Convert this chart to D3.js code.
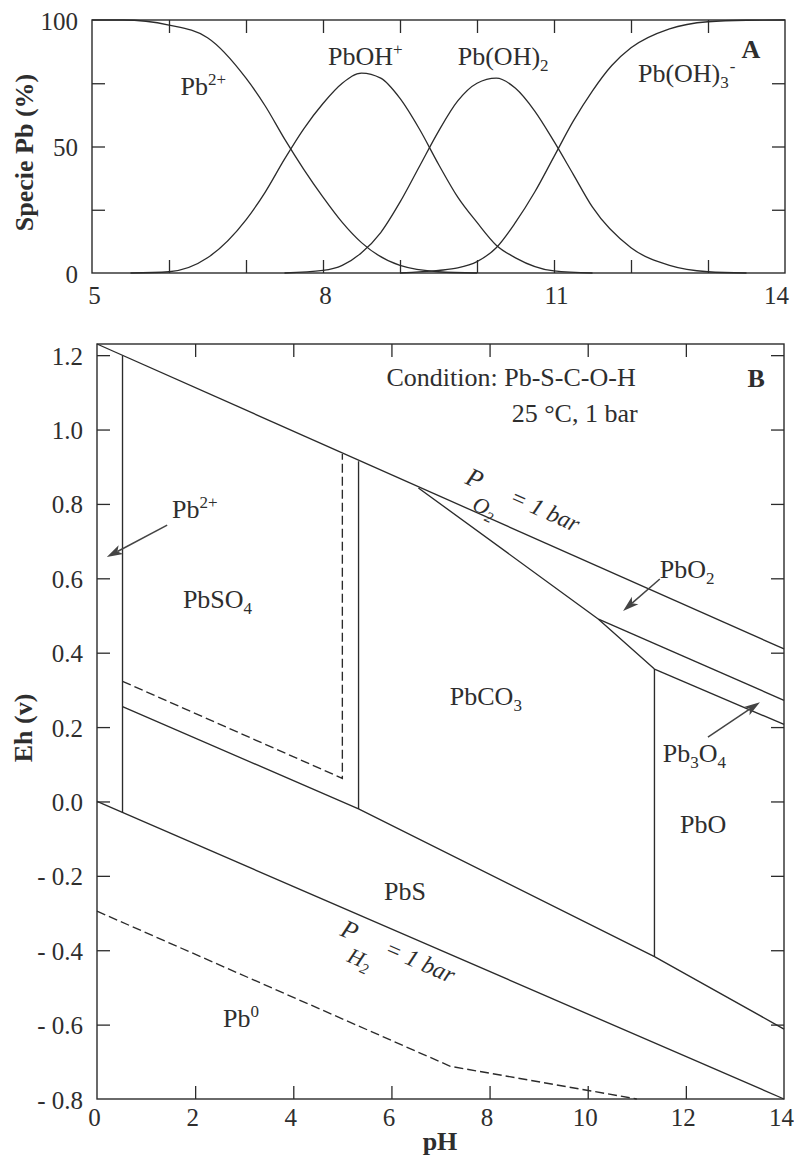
<!DOCTYPE html>
<html><head><meta charset="utf-8">
<script src="https://cdn.jsdelivr.net/npm/d3@7"></script>
<style>
body{margin:0;background:#fff}
text{font-family:"Liberation Serif","Times New Roman",serif;fill:#2e2e2e}
</style>
</head><body>
<svg id="c" width="794" height="1156"></svg>
<script>
// ================= Panel A: species distribution =================
const pb2_pH    = [5, 5.4, 6, 6.5, 7, 7.25, 7.5, 7.75, 8, 8.25, 8.5, 9, 9.5, 10];
const pb2_pct   = [100, 100, 98, 93, 77, 66, 53, 41, 30, 20, 12, 3, 0.5, 0];
const pboh_pH   = [5.5, 6, 6.5, 7, 7.25, 7.5, 7.75, 8, 8.25, 8.5, 8.75, 9, 9.25, 9.5, 9.75, 10, 10.25, 10.5, 11, 11.5];
const pboh_pct  = [0, 0.5, 6, 21, 32, 45, 57, 67, 75, 79, 77, 69, 57, 43, 30, 20, 11, 6, 0.8, 0];
const pboh2_pH  = [7.5, 8, 8.25, 8.5, 8.75, 9, 9.25, 9.5, 9.75, 10, 10.25, 10.5, 10.75, 11, 11.25, 11.5, 12, 12.5, 13, 13.5];
const pboh2_pct = [0, 1, 3, 8, 16, 28, 42, 56, 68, 75, 77, 73, 64, 52, 39, 26, 10, 3, 0.5, 0];
const pboh3_pH  = [9, 9.5, 9.75, 10, 10.25, 10.5, 10.75, 11, 11.25, 11.5, 11.75, 12, 12.5, 13, 13.5, 14];
const pboh3_pct = [0, 1, 2, 4.5, 10, 20, 32, 46, 60, 72, 82, 89, 96.5, 99.3, 99.9, 100];

const topXTickMarks  = [6, 7, 8, 9, 10, 11, 12, 13];
const topXTickLabels = [5, 8, 11, 14];
const topYTickMarks  = [25, 50, 75];
const topYTickLabels = [0, 50, 100];

// ================= Panel B: Eh-pH diagram =================
const o2Line        = [[0, 1.23], [14, 0.41]];
const h2Line        = [[0, 0.0], [14, -0.80]];
const pb2Boundary   = [[0.52, 1.199], [0.52, -0.031]];
const sulfideLine   = [[0.52, 0.255], [5.33, -0.02], [11.36, -0.417], [14, -0.612]];
const sulfateDashed = [[0.52, 0.323], [5.0, 0.062], [5.0, 0.934]];
const so4co3Line    = [[5.33, 0.915], [5.33, -0.02]];
const pbco3Upper    = [[6.55, 0.843], [10.22, 0.49], [11.36, 0.356]];
const pboVertical   = [[11.36, 0.356], [11.36, -0.417]];
const pbo2Pb3o4     = [[10.22, 0.49], [14, 0.272]];
const pb3o4Pbo      = [[11.36, 0.356], [14, 0.207]];
const pb0Dashed     = [[0, -0.295], [7.2, -0.712], [11.0, -0.80]];

const botXTickMarks  = [2, 4, 6, 8, 10, 12];
const botXTickLabels = [0, 2, 4, 6, 8, 10, 12, 14];
const botYTickMarks  = [-0.6, -0.4, -0.2, 0.0, 0.2, 0.4, 0.6, 0.8, 1.0, 1.2];
const botYTickLabels = [-0.8, -0.6, -0.4, -0.2, 0.0, 0.2, 0.4, 0.6, 0.8, 1.0, 1.2];

// ================= drawing =================
const svg = d3.select("#c");
const INK = "#2b2b2b";
const FS_TICK = 25, FS_LAB = 26;

function styleAxis(g){
  g.select(".domain").remove();
  g.selectAll("line").attr("stroke", INK).attr("stroke-width", 1.3);
  g.selectAll("text").attr("font-family", '"Liberation Serif","Times New Roman",serif')
    .attr("font-size", FS_TICK).attr("fill", INK);
}

// ---------- Panel A ----------
const xA = d3.scaleLinear().domain([5, 14]).range([92, 785]);
const yA = d3.scaleLinear().domain([0, 100]).range([273, 20]);
const gA = svg.append("g");

gA.append("rect").attr("x", xA(5)).attr("y", yA(100))
  .attr("width", xA(14) - xA(5)).attr("height", yA(0) - yA(100))
  .attr("fill", "none").attr("stroke", INK).attr("stroke-width", 1.4);

const TK = 13;
gA.append("g").attr("transform", `translate(0,${yA(0)})`)
  .call(d3.axisBottom(xA).tickValues(topXTickMarks).tickSize(-TK).tickFormat("")).call(styleAxis);
gA.append("g").attr("transform", `translate(0,${yA(100)})`)
  .call(d3.axisTop(xA).tickValues(topXTickMarks).tickSize(-TK).tickFormat("")).call(styleAxis);
gA.append("g").attr("transform", `translate(${xA(5)},0)`)
  .call(d3.axisLeft(yA).tickValues(topYTickMarks).tickSize(-TK).tickFormat("")).call(styleAxis);
gA.append("g").attr("transform", `translate(${xA(14)},0)`)
  .call(d3.axisRight(yA).tickValues(topYTickMarks).tickSize(-TK).tickFormat("")).call(styleAxis);
gA.append("g").attr("transform", `translate(0,${yA(0)})`)
  .call(d3.axisBottom(xA).tickValues(topXTickLabels).tickSize(0).tickPadding(13).tickFormat(d3.format("d"))).call(styleAxis)
  .selectAll("text").attr("dx", d => d === 14 ? -9 : 2);
gA.append("g").attr("transform", `translate(${xA(5)},0)`)
  .call(d3.axisLeft(yA).tickValues(topYTickLabels).tickSize(0).tickPadding(14).tickFormat(d3.format("d"))).call(styleAxis)
  .selectAll("text").attr("dy", "0.36em");

const lineA = d3.line().x(d => xA(d[0])).y(d => yA(d[1])).curve(d3.curveMonotoneX);
[[pb2_pH, pb2_pct], [pboh_pH, pboh_pct], [pboh2_pH, pboh2_pct], [pboh3_pH, pboh3_pct]].forEach(([xs, ys]) => {
  gA.append("path").datum(d3.zip(xs, ys)).attr("d", lineA)
    .attr("fill", "none").attr("stroke", INK).attr("stroke-width", 1.3);
});

function label(g, x, y, parts, opts = {}) {
  const t = g.append("text").attr("x", x).attr("y", y).attr("font-size", FS_LAB);
  if (opts.anchor) t.attr("text-anchor", opts.anchor);
  if (opts.bold) t.attr("font-weight", "bold");
  if (opts.italic) t.attr("font-style", "italic");
  let shift = 0;
  parts.forEach(p => {
    const s = t.append("tspan").text(p.t);
    const target = p.sup ? -10 : p.sub ? 6 : 0;
    s.attr("dy", target - shift); shift = target;
    if (p.sup || p.sub) s.attr("font-size", 17);
    if (p.dx) s.attr("dx", p.dx);
  });
  return t;
}

label(gA, xA(6.15), yA(70.4), [{t: "Pb"}, {t: "2+", sup: true}]);
label(gA, xA(8.065), yA(82.2), [{t: "PbOH"}, {t: "+", sup: true}]);
label(gA, xA(9.75), yA(82.2), [{t: "Pb(OH)"}, {t: "2", sub: true}]);
label(gA, xA(12.09), yA(75.5), [{t: "Pb(OH)"}, {t: "3", sub: true}, {t: "-", sup: true, dx: 1}]);
label(gA, xA(13.68), yA(85), [{t: "A"}], {anchor: "end", bold: true});

svg.append("text").attr("transform", `translate(33,${(yA(0) + yA(100)) / 2 + 6}) rotate(-90)`)
  .attr("text-anchor", "middle").attr("font-size", FS_LAB).attr("font-weight", "bold").text("Specie Pb (%)");

// ---------- Panel B ----------
const xB = d3.scaleLinear().domain([0, 14]).range([97, 784]);
const yB = d3.scaleLinear().domain([-0.8, 1.23]).range([1099, 344]);
const gB = svg.append("g");

gB.append("rect").attr("x", xB(0)).attr("y", yB(1.23))
  .attr("width", xB(14) - xB(0)).attr("height", yB(-0.8) - yB(1.23))
  .attr("fill", "none").attr("stroke", INK).attr("stroke-width", 1.4);

gB.append("g").attr("transform", `translate(0,${yB(-0.8)})`)
  .call(d3.axisBottom(xB).tickValues(botXTickMarks).tickSize(-TK).tickFormat("")).call(styleAxis);
gB.append("g").attr("transform", `translate(0,${yB(1.23)})`)
  .call(d3.axisTop(xB).tickValues(botXTickMarks).tickSize(-TK).tickFormat("")).call(styleAxis);
gB.append("g").attr("transform", `translate(${xB(0)},0)`)
  .call(d3.axisLeft(yB).tickValues(botYTickMarks).tickSize(-TK).tickFormat("")).call(styleAxis);
gB.append("g").attr("transform", `translate(${xB(14)},0)`)
  .call(d3.axisRight(yB).tickValues(botYTickMarks).tickSize(-TK).tickFormat("")).call(styleAxis);
gB.append("g").attr("transform", `translate(0,${yB(-0.8)})`)
  .call(d3.axisBottom(xB).tickValues(botXTickLabels).tickSize(0).tickPadding(9).tickFormat(d3.format("d"))).call(styleAxis)
  .selectAll("text").attr("dx", -3);
const ehFmt = d => d < -1e-9 ? "- " + Math.abs(d).toFixed(1) : Math.abs(d).toFixed(1);
gB.append("g").attr("transform", `translate(${xB(0)},0)`)
  .call(d3.axisLeft(yB).tickValues(botYTickLabels).tickSize(0).tickPadding(14).tickFormat(ehFmt)).call(styleAxis)
  .selectAll("text").attr("dy", "0.36em");

const lineB = d3.line().x(d => xB(d[0])).y(d => yB(d[1]));
function seg(data, dashed) {
  const p = gB.append("path").datum(data).attr("d", lineB)
    .attr("fill", "none").attr("stroke", INK).attr("stroke-width", 1.35);
  if (dashed) p.attr("stroke-dasharray", "9,4");
}
[o2Line, h2Line, pb2Boundary, sulfideLine, so4co3Line, pbco3Upper, pboVertical, pbo2Pb3o4, pb3o4Pbo].forEach(d => seg(d, false));
[sulfateDashed, pb0Dashed].forEach(d => seg(d, true));

function arrow(a, b) {
  const x1 = xB(a[0]), y1 = yB(a[1]), x2 = xB(b[0]), y2 = yB(b[1]);
  const ang = Math.atan2(y2 - y1, x2 - x1), L = 16, W = 5;
  const bx = x2 - L * Math.cos(ang), by = y2 - L * Math.sin(ang);
  gB.append("line").attr("x1", x1).attr("y1", y1).attr("x2", bx + 4 * Math.cos(ang)).attr("y2", by + 4 * Math.sin(ang))
    .attr("stroke", "#444").attr("stroke-width", 1.5);
  const px = -Math.sin(ang) * W, py = Math.cos(ang) * W;
  gB.append("path").attr("d", `M${x2},${y2}L${bx + px},${by + py}L${bx + Math.cos(ang)*4},${by + Math.sin(ang)*4}L${bx - px},${by - py}Z`)
    .attr("fill", "#444");
}
arrow([1.43, 0.743], [0.20, 0.657]);
arrow([11.47, 0.598], [10.72, 0.512]);
arrow([12.45, 0.173], [13.51, 0.267]);

label(gB, xB(5.9), yB(1.117), [{t: "Condition: Pb-S-C-O-H"}]);
label(gB, xB(8.45), yB(1.021), [{t: "25 °C, 1 bar"}]);
label(gB, xB(13.61), yB(1.115), [{t: "B"}], {anchor: "end", bold: true});
label(gB, xB(1.53), yB(0.762), [{t: "Pb"}, {t: "2+", sup: true}]);
label(gB, xB(1.75), yB(0.520), [{t: "PbSO"}, {t: "4", sub: true}]);
label(gB, xB(7.19), yB(0.259), [{t: "PbCO"}, {t: "3", sub: true}]);
label(gB, xB(11.47), yB(0.60), [{t: "PbO"}, {t: "2", sub: true}]);
label(gB, xB(11.53), yB(0.106), [{t: "Pb"}, {t: "3", sub: true}, {t: "O"}, {t: "4", sub: true}]);
label(gB, xB(11.88), yB(-0.085), [{t: "PbO"}]);
label(gB, xB(5.85), yB(-0.265), [{t: "PbS"}]);
label(gB, xB(2.57), yB(-0.606), [{t: "Pb"}, {t: "0", sup: true}]);

function gasLabel(origin, lineData, gas) {
  const ang = Math.atan2(yB(lineData[1][1]) - yB(lineData[0][1]), xB(lineData[1][0]) - xB(lineData[0][0])) * 180 / Math.PI;
  const t = gB.append("text").attr("transform", `translate(${xB(origin[0])},${yB(origin[1])}) rotate(${ang})`)
    .attr("font-size", FS_LAB).attr("font-style", "italic");
  t.append("tspan").text("P");
  t.append("tspan").attr("dx", 1).attr("dy", 21).attr("font-size", 22).text(gas);
  t.append("tspan").attr("dy", 5).attr("font-size", 15).text("2");
  t.append("tspan").attr("dx", 8).attr("dy", -26).attr("font-size", 24).text("= 1 bar");
}
gasLabel([7.48, 0.856], o2Line, "O");
gasLabel([4.93, -0.359], h2Line, "H");

svg.append("text").attr("x", 440).attr("y", 1150).attr("text-anchor", "middle")
  .attr("font-size", FS_LAB).attr("font-weight", "bold").text("pH");
svg.append("text").attr("transform", `translate(32,728) rotate(-90)`)
  .attr("text-anchor", "middle").attr("font-size", FS_LAB).attr("font-weight", "bold").text("Eh (v)");
</script>
</body></html>
